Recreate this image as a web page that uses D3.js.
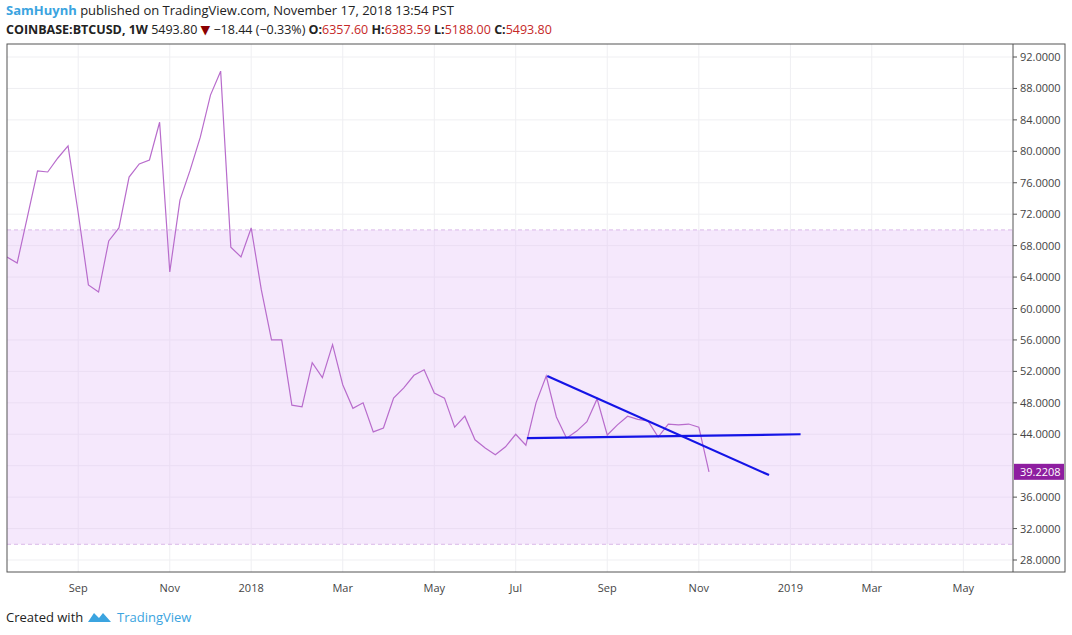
<!DOCTYPE html>
<html><head><meta charset="utf-8">
<script src="https://cdn.jsdelivr.net/npm/d3@7"></script>
<style>
body{margin:0;background:#fff;font-family:"Open Sans","DejaVu Sans",sans-serif;}
</style></head>
<body><svg id="c" width="1072" height="635"></svg>
<script>
// weekly closes (thousands as shown on the chart), bar index 0 = first visible week
var closes = [66.56,65.79,71.64,77.5,77.37,79.15,80.68,72.15,63.0,62.1,68.6,70.25,76.73,78.39,78.9,83.7,
  64.65,73.8,77.6,81.8,87.15,90.2,67.8,66.56,70.25,62.36,56.0,56.0,47.7,47.5,53.1,51.2,55.4,50.3,47.3,48.0,
  44.3,44.8,48.6,49.9,51.5,52.2,49.25,48.6,44.9,46.3,43.3,42.25,41.4,42.4,44.0,42.6,48.0,51.4,46.2,43.5,
  44.4,45.6,48.5,43.9,45.2,46.3,45.9,45.7,43.65,45.3,45.2,45.3,44.9,39.22];
var yTicks = d3.range(28, 93, 4);
// bar index where each month label sits
var xTickBars = [7, 16, 24, 33, 42, 50, 59, 68, 77, 85, 94];
var xTickLabels = ["Sep","Nov","2018","Mar","May","Jul","Sep","Nov","2019","Mar","May"];
var band = [30, 70];
var trendFlat = [[51.1, 43.5], [78.0, 44.0]];
var trendDown = [[53.1, 51.4], [74.9, 38.8]];
var lastPrice = "39.2208";

var svg = d3.select("#c");
var L = 7, R = 1013, T = 44, B = 572;
var x = d3.scaleLinear().domain([0, 69]).range([7, 709]);
var y = d3.scaleLinear().domain([92, 28]).range([57, 560]);

svg.append("clipPath").attr("id", "clip").append("rect")
    .attr("x", L).attr("y", T).attr("width", R - L).attr("height", B - T);
var g = svg.append("g").attr("clip-path", "url(#clip)");

// grid
g.selectAll(".hg").data(yTicks).join("line")
    .attr("x1", L).attr("x2", R).attr("y1", d => y(d)).attr("y2", d => y(d))
    .attr("stroke", "#efeff2");
g.selectAll(".vg").data(xTickBars).join("line")
    .attr("x1", d => x(d)).attr("x2", d => x(d)).attr("y1", T).attr("y2", B)
    .attr("stroke", "#efeff2");

// shaded band
g.append("rect").attr("x", L).attr("width", R - L)
    .attr("y", y(band[1])).attr("height", y(band[0]) - y(band[1]))
    .attr("fill", "rgba(225,190,245,0.35)");
band.forEach(function (b) {
    g.append("line").attr("x1", L).attr("x2", R).attr("y1", y(b)).attr("y2", y(b))
        .attr("stroke", "#d9b8e8").attr("stroke-dasharray", "4,3");
});

// price line
g.append("path").datum(closes)
    .attr("d", d3.line().x((d, i) => x(i)).y(d => y(d)))
    .attr("fill", "none").attr("stroke", "#b86ccc").attr("stroke-width", 1.2);

// trendlines
[trendFlat, trendDown].forEach(function (t) {
    g.append("line")
        .attr("x1", x(t[0][0])).attr("y1", y(t[0][1]))
        .attr("x2", x(t[1][0])).attr("y2", y(t[1][1]))
        .attr("stroke", "#1414e6").attr("stroke-width", 2.2);
});

// frame
svg.append("rect").attr("x", L).attr("y", T).attr("width", 1065 - L).attr("height", B - T)
    .attr("fill", "none").attr("stroke", "#555");
svg.append("line").attr("x1", R).attr("x2", R).attr("y1", T).attr("y2", B).attr("stroke", "#555");

// right axis (skip the tick hidden under the last price label)
var ly = y(closes[closes.length - 1]);
var ya = svg.selectAll(".yt").data(yTicks.filter(d => Math.abs(y(d) - ly) > 12)).join("g");
ya.append("line").attr("x1", R).attr("x2", R + 4).attr("y1", d => y(d)).attr("y2", d => y(d)).attr("stroke", "#555");
ya.append("text").attr("x", R + 7).attr("y", d => y(d) + 4).attr("font-size", 11).attr("fill", "#444")
    .text(d => d3.format(".4f")(d));

// bottom axis
svg.selectAll(".xt").data(xTickBars).join("text")
    .attr("x", d => x(d)).attr("y", 592).attr("text-anchor", "middle")
    .attr("font-size", 11).attr("fill", "#444")
    .text((d, i) => xTickLabels[i]);

// last price label
svg.append("rect").attr("x", R + 1).attr("y", ly - 8).attr("width", 50).attr("height", 16).attr("fill", "#8e1ea0");
svg.append("text").attr("x", R + 7).attr("y", ly + 4).attr("font-size", 11).attr("fill", "#fff").text(lastPrice);

// header
var h1 = svg.append("text").attr("x", 6).attr("y", 15).attr("font-size", 13);
h1.append("tspan").attr("fill", "#3ba4e0").attr("font-weight", "bold").text("SamHuynh");
h1.append("tspan").attr("fill", "#222").text(" published on TradingView.com, November 17, 2018 13:54 PST");
var h2 = svg.append("text").attr("x", 6).attr("y", 34).attr("font-size", 12.5).attr("fill", "#222");
h2.append("tspan").attr("font-weight", "bold").text("COINBASE:BTCUSD, 1W");
h2.append("tspan").text("  5493.80 ");
h2.append("tspan").attr("fill", "#8b0000").text("▼");
h2.append("tspan").text(" −18.44 (−0.33%) ");
[["O:", "6357.60"], ["H:", "6383.59"], ["L:", "5188.00"], ["C:", "5493.80"]].forEach(function (p) {
    h2.append("tspan").attr("font-weight", "bold").text(p[0]);
    h2.append("tspan").attr("fill", "#c62828").text(p[1] + " ");
});

// footer
svg.append("text").attr("x", 6).attr("y", 622).attr("font-size", 13).attr("fill", "#222").text("Created with");
svg.append("path").attr("d", "M88,622 l6,-9 l5,5 l4,-5 l8,9 z").attr("fill", "#3ba4e0");
svg.append("text").attr("x", 117).attr("y", 622).attr("font-size", 13).attr("fill", "#3ba4e0").text("TradingView");
</script></body></html>
